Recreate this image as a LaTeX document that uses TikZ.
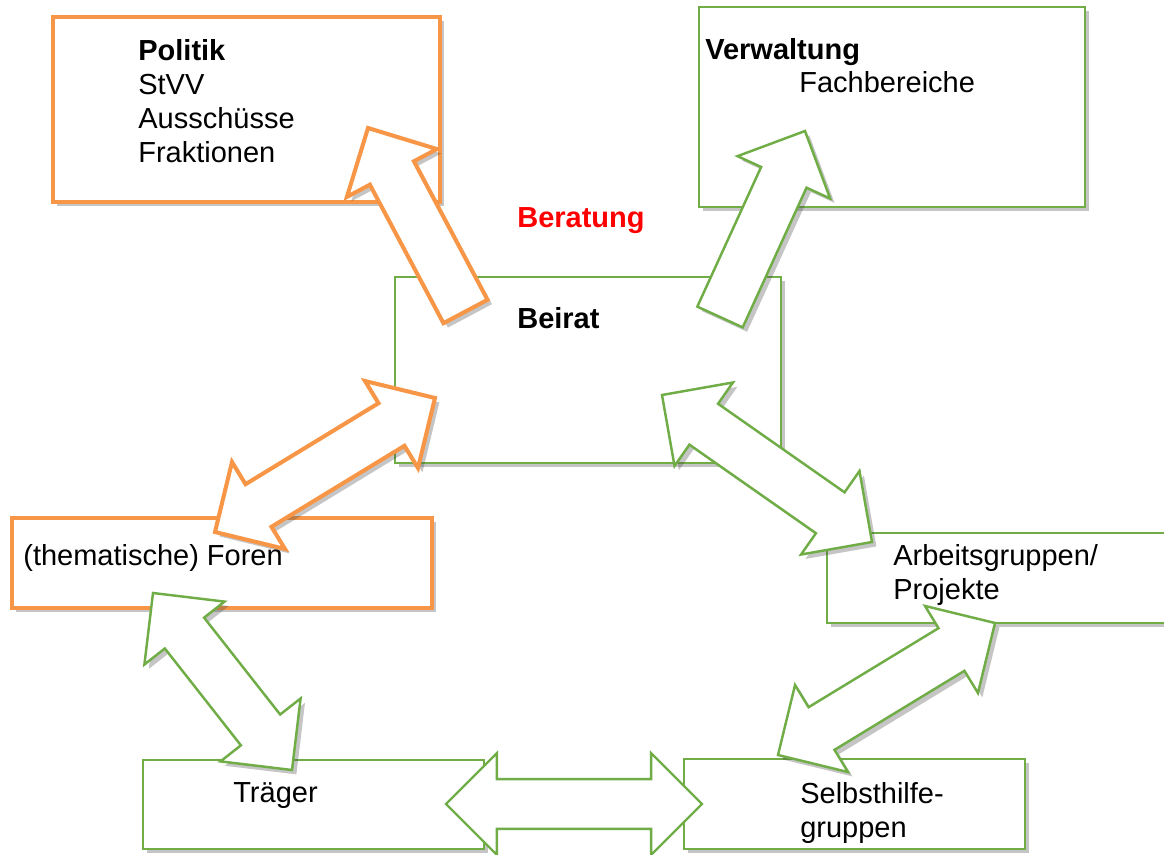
\documentclass[tikz,border=0pt]{standalone}
\usepackage{fontspec}
\setmainfont{Liberation Sans}
\usetikzlibrary{calc,fit,shadows}
\definecolor{orange}{HTML}{F79646}
\definecolor{green}{HTML}{70AD47}
\definecolor{red}{HTML}{FF0000}
\tikzset{
  every node/.style={font=\fontsize{16.5}{19.4}\selectfont},
  shadowed/.style={drop shadow={shadow xshift=2.5pt, shadow yshift=-2.5pt, opacity=.3, fill=black!75}},
  box/.style={draw, fill=white, inner sep=0pt, shadowed},
  orangebox/.style={box, draw=orange, line width=2.5pt},
  greenbox/.style={box, draw=green, line width=1.5pt},
  blockarrow/.style={fill=white, line join=miter},
  orangearrow/.style={blockarrow, shadowed, draw=orange, line width=2.3pt},
  greenarrow/.style={blockarrow, shadowed, draw=green, line width=1.4pt},
  flatarrow/.style={blockarrow, draw=green, line width=1.4pt},
  txt/.style={anchor=base west, inner sep=0pt, align=left},
  txtblock/.style={txt, anchor=north west},
}
% block arrow with two heads: style, tip, tip
\newcommand{\dblarrow}[3]{%
  \draw[#1] (#2)
    -- ($(#2)!29pt!(#3)!29pt!90:(#3)$)
    -- ($(#2)!29pt!(#3)!14.2pt!90:(#3)$)
    -- ($(#3)!29pt!(#2)!14.2pt!-90:(#2)$)
    -- ($(#3)!29pt!(#2)!29pt!-90:(#2)$)
    -- (#3)
    -- ($(#3)!29pt!(#2)!29pt!90:(#2)$)
    -- ($(#3)!29pt!(#2)!14.2pt!90:(#2)$)
    -- ($(#2)!29pt!(#3)!14.2pt!-90:(#3)$)
    -- ($(#2)!29pt!(#3)!29pt!-90:(#3)$)
    -- cycle;}
% block arrow with one head: style, tail, tip
\newcommand{\sglarrow}[3]{%
  \draw[#1] ($(#2)!14.2pt!90:(#3)$)
    -- ($(#3)!29pt!(#2)!14.2pt!-90:(#2)$)
    -- ($(#3)!29pt!(#2)!29pt!-90:(#2)$)
    -- (#3)
    -- ($(#3)!29pt!(#2)!29pt!90:(#2)$)
    -- ($(#3)!29pt!(#2)!14.2pt!90:(#2)$)
    -- ($(#2)!14.2pt!-90:(#3)$)
    -- cycle;}

\begin{document}
\begin{tikzpicture}[x=0.02cm, y=-0.02cm]
\useasboundingbox (0,0) rectangle (1164,855);

% boxes
\node[orangebox, fit={(53,17) (440,202)}] (politik) {};
\node[greenbox, fit={(699,7) (1085,207)}] (verwaltung) {};
\node[greenbox, fit={(395,277) (781,463)}] (beirat) {};
\node[orangebox, fit={(12,518) (432,608)}] (foren) {};
\node[greenbox, fit={(827,533) (1185,623)}] (ag) {};
\node[greenbox, fit={(143,760) (484,849)}] (traeger) {};
\node[greenbox, fit={(684,759) (1025,849)}] (shg) {};

% texts
\node[txtblock] (politik-t) at (138,39) {\textbf{Politik}\\StVV\\Ausschüsse\\Fraktionen};
\node[txt] (verwaltung-t) at (705,60) {\textbf{Verwaltung}};
\node[txt] (fachbereiche-t) at (799,93) {Fachbereiche};
\node[txt, text=red] (beratung-t) at (517,228) {\textbf{Beratung}};
\node[txt] (beirat-t) at (517,328) {\textbf{Beirat}};
\node[txt] (foren-t) at (23,565) {(thematische) Foren};
\node[txtblock] (ag-t) at (893,544) {Arbeitsgruppen/\\Projekte};
\node[txt] (traeger-t) at (233,802) {Träger};
\node[txtblock] (shg-t) at (800,782) {Selbsthilfe-\\gruppen};

% arrow ends
\coordinate (beirat-pol) at (465.5,311.5);
\coordinate (pol-in) at (368,128);
\coordinate (beirat-verw) at (720,317);
\coordinate (verw-in) at (805,131);
\coordinate (beirat-foren) at (435,398);
\coordinate (foren-beirat) at (215,532);
\coordinate (beirat-ag) at (662,395);
\coordinate (ag-beirat) at (872,542);
\coordinate (ag-shg) at (995,623);
\coordinate (shg-ag) at (778,755);
\coordinate (foren-traeger) at (153,593);
\coordinate (traeger-foren) at (292,770);
\coordinate (traeger-shg) at (446,804);
\coordinate (shg-traeger) at (702,804);

% arrows
\sglarrow{orangearrow}{beirat-pol}{pol-in}
\sglarrow{greenarrow}{beirat-verw}{verw-in}
\dblarrow{orangearrow}{beirat-foren}{foren-beirat}
\dblarrow{greenarrow}{beirat-ag}{ag-beirat}
\dblarrow{greenarrow}{ag-shg}{shg-ag}
\dblarrow{greenarrow}{foren-traeger}{traeger-foren}
\dblarrow{flatarrow}{traeger-shg}{shg-traeger}
\end{tikzpicture}
\end{document}
